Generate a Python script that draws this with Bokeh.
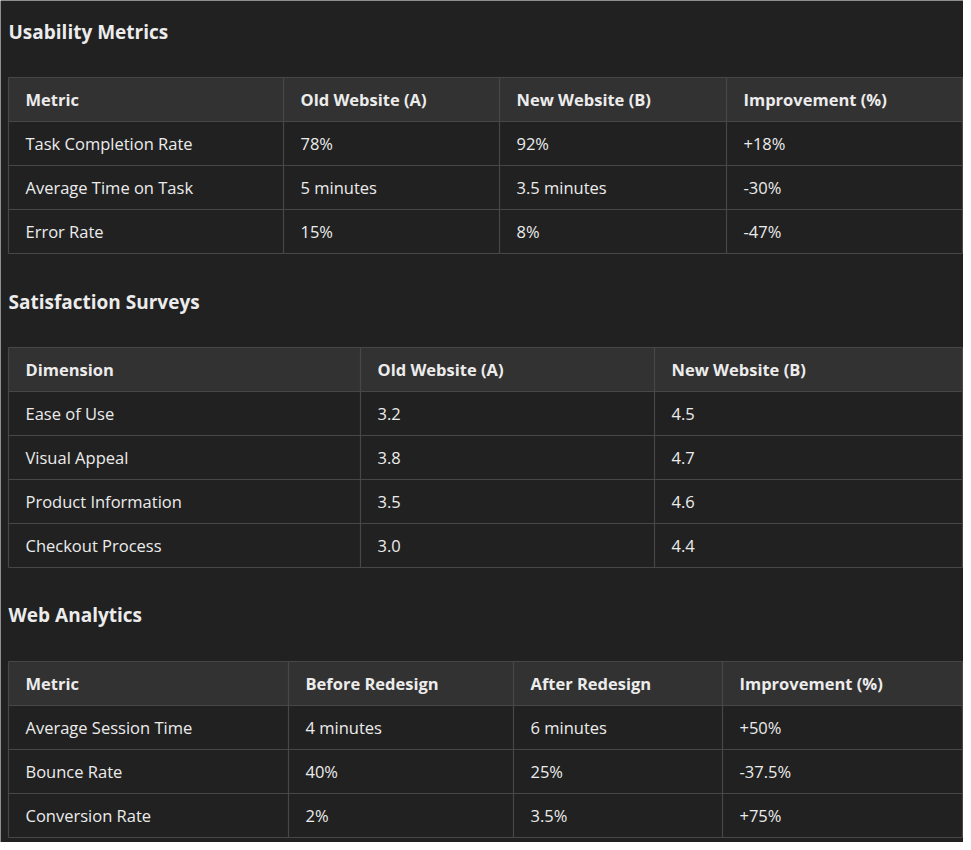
from bokeh.plotting import figure
from bokeh.models import ColumnDataSource, Range1d
from bokeh.core.properties import value
from bokeh.embed import file_html
from bokeh.resources import INLINE

# --- table data ---
usability_header = ["Metric", "Old Website (A)", "New Website (B)", "Improvement (%)"]
usability_rows = [
    ["Task Completion Rate", "78%", "92%", "+18%"],
    ["Average Time on Task", "5 minutes", "3.5 minutes", "-30%"],
    ["Error Rate", "15%", "8%", "-47%"],
]
satisfaction_header = ["Dimension", "Old Website (A)", "New Website (B)"]
satisfaction_rows = [
    ["Ease of Use", "3.2", "4.5"],
    ["Visual Appeal", "3.8", "4.7"],
    ["Product Information", "3.5", "4.6"],
    ["Checkout Process", "3.0", "4.4"],
]
analytics_header = ["Metric", "Before Redesign", "After Redesign", "Improvement (%)"]
analytics_rows = [
    ["Average Session Time", "4 minutes", "6 minutes", "+50%"],
    ["Bounce Rate", "40%", "25%", "-37.5%"],
    ["Conversion Rate", "2%", "3.5%", "+75%"],
]

# layout: (title, title_y, table_top, column edges, header, rows)
sections = [
    ("Usability Metrics", 31, 77, [8, 283, 499, 726, 962], usability_header, usability_rows),
    ("Satisfaction Surveys", 301, 347, [8, 360, 654, 962], satisfaction_header, satisfaction_rows),
    ("Web Analytics", 614, 661, [8, 288, 513, 722, 962], analytics_header, analytics_rows),
]
ROW_H = 44
BG = "#212121"
HEAD_BG = "#323232"
BORDER = "#474747"
TXT = "#ececec"
FONT = "Open Sans"

p = figure(width=963, height=842, output_backend="svg", toolbar_location=None,
           x_range=Range1d(0, 963), y_range=Range1d(842, 0),
           background_fill_color=BG, border_fill_color=BG, min_border=0)
p.axis.visible = False
p.grid.visible = False
p.outline_line_color = None

for title, ty, top, edges, header, rows in sections:
    p.text(x=[8], y=[ty], text=[title], text_font=value(FONT), text_font_size="19px",
           text_font_style="bold", text_color=TXT, text_baseline="middle")
    n = len(rows) + 1
    bottom = top + n * ROW_H
    # header band
    p.quad(left=[edges[0]], right=[edges[-1]], top=[top], bottom=[top + ROW_H],
           fill_color=HEAD_BG, line_color=None)
    # horizontal lines
    ys = [top + i * ROW_H for i in range(n + 1)]
    p.segment(x0=[edges[0]] * len(ys), x1=[edges[-1]] * len(ys), y0=ys, y1=ys,
              line_color=BORDER, line_width=1.2)
    # vertical lines
    p.segment(x0=edges, x1=edges, y0=[top] * len(edges), y1=[bottom] * len(edges),
              line_color=BORDER, line_width=1.2)
    # texts
    xs, yy, tt, st = [], [], [], []
    for r, row in enumerate([header] + rows):
        for c, cell in enumerate(row):
            xs.append(edges[c] + 17)
            yy.append(top + r * ROW_H + ROW_H / 2)
            tt.append(cell)
            st.append("bold" if r == 0 else "normal")
    src = ColumnDataSource(dict(x=xs, y=yy, t=tt, s=st))
    p.text(x="x", y="y", text="t", source=src, text_font=value(FONT), text_font_size="16.5px",
           text_font_style="s", text_color=TXT, text_baseline="middle")

html = file_html(p, INLINE)
html = html.replace("<body>", '<body style="background:#212121">', 1)
open("out.html", "w").write(html)
